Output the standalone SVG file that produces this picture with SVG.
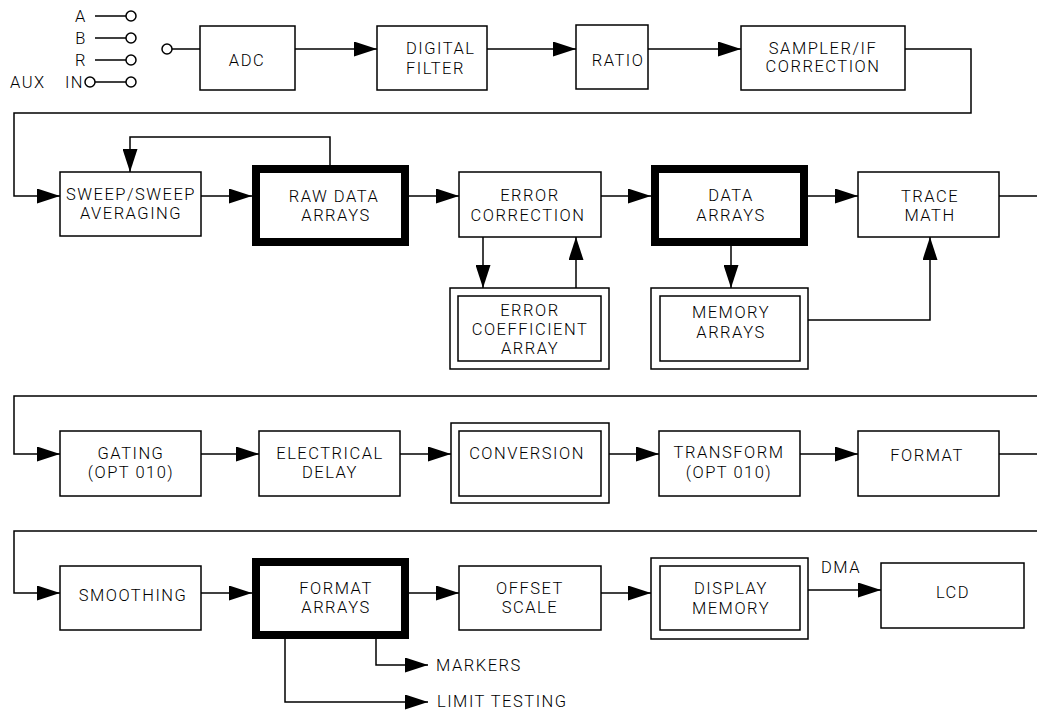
<svg xmlns="http://www.w3.org/2000/svg" width="1037" height="711" viewBox="0 0 1037 711">
<style>
text{font-family:Roboto,"Liberation Sans",Arial,sans-serif;font-weight:300;font-size:16.5px;letter-spacing:1.5px;fill:#000;text-anchor:middle}
.box{fill:#fff;stroke:#000;stroke-width:1.5}
.thick{fill:#fff;stroke:#000;stroke-width:8}
.ln{fill:none;stroke:#000;stroke-width:1.5}
.ar{fill:none;stroke:#000;stroke-width:1.5;marker-end:url(#ah)}
.st{text-anchor:start}
.en{text-anchor:end}
</style>
<defs>
<marker id="ah" markerUnits="userSpaceOnUse" markerWidth="23" markerHeight="15" refX="23" refY="7.5" orient="auto">
<path d="M0,0 L23,7.5 L0,15 z" fill="#000"/>
</marker>
</defs>
<rect width="1037" height="711" fill="#fff"/>
<g id="connectors">
<line class="ln" x1="95" y1="16" x2="126" y2="16"/>
<line class="ln" x1="95" y1="38" x2="126" y2="38"/>
<line class="ln" x1="95" y1="60" x2="126" y2="60"/>
<line class="ln" x1="95" y1="82" x2="126" y2="82"/>
<circle class="ln" cx="131" cy="16" r="5"/>
<circle class="ln" cx="131" cy="38" r="5"/>
<circle class="ln" cx="131" cy="60" r="5"/>
<circle class="ln" cx="131" cy="82" r="5"/>
<circle class="ln" cx="90" cy="82" r="5"/>
<circle class="ln" cx="167" cy="49" r="5"/>
<line class="ln" x1="172" y1="49" x2="200" y2="49"/>
<path class="ar" d="M295,49 H377"/>
<path class="ar" d="M487,49 H576"/>
<path class="ar" d="M648,49 H741"/>
<path class="ar" d="M905,49 H971 V113 H14 V196 H60"/>
<path class="ar" d="M201,196 H252"/>
<path class="ar" d="M330,165 V137 H130 V172"/>
<path class="ar" d="M409,196 H459"/>
<path class="ar" d="M601,196 H651"/>
<path class="ar" d="M808,196 H858"/>
<path class="ln" d="M999,196 H1037"/>
<path class="ar" d="M483,237 V288"/>
<path class="ar" d="M576,288 V237"/>
<path class="ar" d="M731,246 V288"/>
<path class="ar" d="M808,320 H930 V237"/>
<path class="ar" d="M1037,396 H14 V454 H60"/>
<path class="ar" d="M201,454 H259"/>
<path class="ar" d="M400,454 H451"/>
<path class="ar" d="M609,454 H659"/>
<path class="ar" d="M800,454 H858"/>
<path class="ln" d="M999,454 H1037"/>
<path class="ar" d="M1037,531 H14 V593 H60"/>
<path class="ar" d="M201,593 H252"/>
<path class="ar" d="M409,593 H459"/>
<path class="ar" d="M601,593 H651"/>
<path class="ar" d="M808,590 H881"/>
<path class="ar" d="M376,639 V665 H428"/>
<path class="ar" d="M285,639 V702 H428"/>
</g>
<g id="inputs">
<text x="81" y="22">A</text>
<text x="81" y="44">B</text>
<text x="81" y="66">R</text>
<text class="st" x="10" y="88">AUX</text>
<text class="en" x="84" y="88">IN</text>
</g>
<g id="adc"><rect class="box" x="200" y="26" width="95" height="64"/><text x="247" y="66">ADC</text></g>
<g id="digital-filter"><rect class="box" x="377" y="26" width="110" height="64"/><text class="st" x="406" y="54">DIGITAL</text><text class="st" x="406" y="74">FILTER</text></g>
<g id="ratio"><rect class="box" x="576" y="25" width="72" height="64"/><text x="618" y="66">RATIO</text></g>
<g id="sampler"><rect class="box" x="741" y="26" width="164" height="64"/><text x="823" y="54">SAMPLER/IF</text><text x="823" y="72">CORRECTION</text></g>
<g id="sweep"><rect class="box" x="60" y="172" width="141" height="64"/><text x="131" y="200">SWEEP/SWEEP</text><text x="131" y="219">AVERAGING</text></g>
<g id="raw-data"><rect class="thick" x="256" y="169" width="149" height="73"/><text x="334" y="202">RAW DATA</text><text x="336" y="221">ARRAYS</text></g>
<g id="error-correction"><rect class="box" x="459" y="172" width="142" height="65"/><text x="530" y="201">ERROR</text><text x="528" y="221">CORRECTION</text></g>
<g id="data-arrays"><rect class="thick" x="655" y="169" width="149" height="73"/><text x="731" y="201">DATA</text><text x="731" y="221">ARRAYS</text></g>
<g id="trace-math"><rect class="box" x="858" y="172" width="141" height="65"/><text x="930" y="202">TRACE</text><text x="930" y="221">MATH</text></g>
<g id="error-coefficient"><rect class="box" x="450" y="288" width="159" height="81"/><rect class="box" x="458" y="296" width="143" height="65"/><text x="530" y="316">ERROR</text><text x="530" y="335">COEFFICIENT</text><text x="530" y="354">ARRAY</text></g>
<g id="memory-arrays"><rect class="box" x="651" y="288" width="157" height="81"/><rect class="box" x="660" y="296" width="140" height="65"/><text x="731" y="318">MEMORY</text><text x="731" y="338">ARRAYS</text></g>
<g id="gating"><rect class="box" x="60" y="431" width="141" height="65"/><text x="131" y="459">GATING</text><text x="131" y="478">(OPT 010)</text></g>
<g id="electrical-delay"><rect class="box" x="259" y="431" width="141" height="65"/><text x="330" y="459">ELECTRICAL</text><text x="330" y="478">DELAY</text></g>
<g id="conversion"><rect class="box" x="451" y="423" width="158" height="80"/><rect class="box" x="459" y="431" width="142" height="65"/><text x="527" y="459">CONVERSION</text></g>
<g id="transform"><rect class="box" x="659" y="431" width="141" height="65"/><text x="729" y="458">TRANSFORM</text><text x="729" y="478">(OPT 010)</text></g>
<g id="format"><rect class="box" x="858" y="431" width="141" height="65"/><text x="927" y="461">FORMAT</text></g>
<g id="smoothing"><rect class="box" x="60" y="566" width="141" height="64"/><text x="133" y="601">SMOOTHING</text></g>
<g id="format-arrays"><rect class="thick" x="256" y="562" width="149" height="73"/><text x="336" y="594">FORMAT</text><text x="336" y="613">ARRAYS</text></g>
<g id="offset-scale"><rect class="box" x="459" y="566" width="142" height="64"/><text x="530" y="594">OFFSET</text><text x="530" y="613">SCALE</text></g>
<g id="display-memory"><rect class="box" x="651" y="558" width="157" height="81"/><rect class="box" x="660" y="566" width="140" height="64"/><text x="731" y="594">DISPLAY</text><text x="731" y="614">MEMORY</text></g>
<g id="dma-label"><text x="841" y="573">DMA</text></g>
<g id="lcd"><rect class="box" x="881" y="563" width="143" height="65"/><text x="953" y="598">LCD</text></g>
<g id="outputs"><text class="st" x="436" y="671">MARKERS</text><text class="st" x="437" y="707">LIMIT TESTING</text></g>
</svg>
